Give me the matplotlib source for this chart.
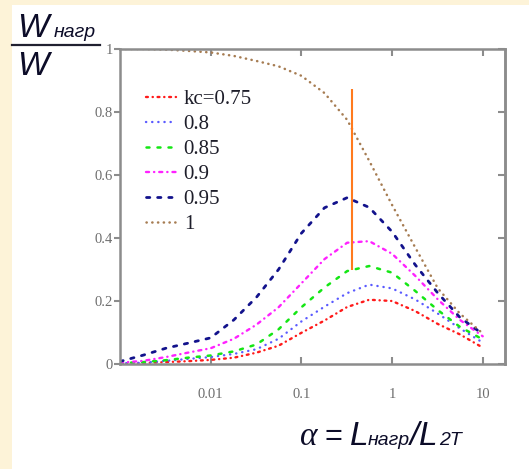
import matplotlib
matplotlib.use("Agg")
import matplotlib.pyplot as plt
from matplotlib.patches import Rectangle
from matplotlib.lines import Line2D

# x = L_нагр / L_2T (log scale)
alpha = [0.001, 0.0018, 0.0032, 0.0056, 0.01, 0.018, 0.032, 0.056,
         0.1, 0.18, 0.32, 0.56, 1.0, 1.8, 3.2, 5.6, 10.0]

w_075 = [0.001, 0.003, 0.006, 0.009, 0.013, 0.020, 0.036, 0.058,
         0.099, 0.138, 0.181, 0.204, 0.200, 0.168, 0.127, 0.094, 0.052]
w_080 = [0.002, 0.004, 0.010, 0.016, 0.022, 0.032, 0.047, 0.080,
         0.135, 0.182, 0.225, 0.252, 0.240, 0.205, 0.160, 0.113, 0.068]
w_085 = [0.003, 0.006, 0.012, 0.020, 0.027, 0.040, 0.062, 0.110,
         0.180, 0.243, 0.295, 0.311, 0.290, 0.232, 0.171, 0.118, 0.078]
w_090 = [0.004, 0.010, 0.022, 0.036, 0.050, 0.080, 0.125, 0.180,
         0.256, 0.333, 0.385, 0.390, 0.350, 0.280, 0.205, 0.140, 0.088]
w_095 = [0.008, 0.028, 0.050, 0.066, 0.083, 0.140, 0.212, 0.300,
         0.415, 0.496, 0.528, 0.497, 0.420, 0.315, 0.225, 0.148, 0.095]
w_100 = [1.000, 1.000, 0.998, 0.994, 0.989, 0.978, 0.962, 0.945,
         0.915, 0.860, 0.775, 0.645, 0.505, 0.370, 0.240, 0.160, 0.097]

series = [w_075, w_080, w_085, w_090, w_095, w_100]
labels = ["kc=0.75", "0.8", "0.85", "0.9", "0.95", "1"]
colors = ["#ff1a1a", "#5a5aff", "#14e614", "#ff22ff", "#12128c", "#a67c52"]
styles = [(0, (0.8, 2.0, 0.1, 2.0)), (0, (0.1, 2.5)), (0, (1.2, 3.2)),
          (0, (1.3, 2.1, 0.1, 2.1)), (0, (1.2, 2.8)), (0, (0.1, 2.2))]
widths = [1.7, 1.7, 1.8, 1.7, 2.0, 1.8]

marker_x = 0.365
marker_y = [0.298, 0.873]

xticks = [0.01, 0.1, 1, 10]
xtick_labels = ["0.01", "0.1", "1", "10"]
yticks = [0, 0.2, 0.4, 0.6, 0.8, 1.0]
ytick_labels = ["0", "0.2", "0.4", "0.6", "0.8", "1"]

W, H = 529, 469
fig = plt.figure(figsize=(W / 100, H / 100), dpi=100, facecolor="#fdf3d8")
fig.patches.append(Rectangle((12 / W, 0), 1 - 12 / W, 1 - 5 / H,
                             transform=fig.transFigure, facecolor="white",
                             edgecolor="none", zorder=-10))

def px(x, y):
    return x / W, 1 - y / H

ax = fig.add_axes([120 / W, 1 - 364 / H, (505 - 120) / W, (364 - 49) / H])
ax.set_zorder(2)
ax.set_facecolor("white")

for vals, lab, c, ls, lw in zip(series, labels, colors, styles, widths):
    ax.plot(alpha, vals, color=c, linestyle=ls, lw=lw, label=lab,
            dash_capstyle="round")

ax.vlines(marker_x, marker_y[0], marker_y[1], color="#ff7a1e", lw=1.5)

ax.set_xscale("log")
ax.set_xlim(0.001, 17.6)
ax.set_ylim(0, 1.0)
ax.set_xticks(xticks)
ax.set_xticklabels(xtick_labels)
ax.xaxis.set_minor_locator(matplotlib.ticker.NullLocator())
ax.set_yticks(yticks)
ax.set_yticklabels(ytick_labels)

for s in ax.spines.values():
    s.set_color("#8c8c8c")
    s.set_linewidth(1.8)

ax.tick_params(axis="x", direction="in", top=True, length=5, width=1.5,
               color="#8c8c8c", pad=17, labelcolor="#6e6e6e")
ax.tick_params(axis="y", direction="out", right=False, length=4, width=1.5,
               color="#8c8c8c", pad=1, labelcolor="#6e6e6e")
for t in ax.get_xticklabels() + ax.get_yticklabels():
    t.set_fontfamily("Liberation Serif")
    t.set_fontsize(10.5)

ax_r = ax.secondary_yaxis("right")
ax_r.set_yticks(yticks)
ax_r.tick_params(direction="in", length=5, width=1.5, color="#8c8c8c",
                 labelright=False)
ax_r.spines["right"].set_color("#8c8c8c")
ax_r.spines["right"].set_linewidth(1.8)

leg = ax.legend(loc="upper left", bbox_to_anchor=(0.068, 0.872), frameon=False,
                prop={"family": "Liberation Serif", "size": 15},
                handlelength=1.45, handletextpad=0.35, labelspacing=0.26,
                borderpad=0, borderaxespad=0)
for t in leg.get_texts():
    t.set_color("#1e1e2a")

# axis titles as in the source (Mathcad-like fraction)
ink = "#0c0c28"
big = dict(family="Liberation Sans", style="italic", size=24, color=ink)
small = dict(family="Liberation Sans", style="italic", size=14, color=ink)
fig.text(*px(17, 37), "W", ha="left", va="baseline", **big)
fig.text(*px(54, 37), "нагр", ha="left", va="baseline", **small)
fig.add_artist(Line2D([12 / W, 100 / W], [1 - 45 / H, 1 - 45 / H],
                      transform=fig.transFigure, color="#202030", lw=1.6))
fig.text(*px(17, 75), "W", ha="left", va="baseline", **big)

fig.text(*px(300, 445), "α", ha="left", va="baseline",
         family="Liberation Serif", style="italic", size=24, color=ink)
fig.text(*px(324, 445), "=", ha="left", va="baseline",
         family="Liberation Sans", size=22, color=ink)
fig.text(*px(350, 445), "L", ha="left", va="baseline", **big)
fig.text(*px(368, 445), "нагр", ha="left", va="baseline", **small)
fig.text(*px(410, 445), "/", ha="left", va="baseline", **big)
fig.text(*px(419, 445), "L", ha="left", va="baseline", **big)
fig.text(*px(439, 445), "2T", ha="left", va="baseline", **small)

fig.savefig("out.png", dpi=100, facecolor=fig.get_facecolor())
